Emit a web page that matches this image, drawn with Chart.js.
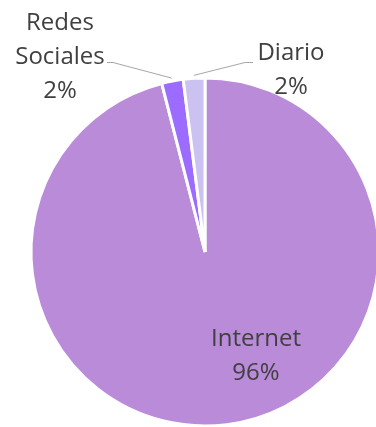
<!DOCTYPE html>
<html>
<head>
<meta charset="utf-8">
<script src="https://cdn.jsdelivr.net/npm/chart.js@4/dist/chart.umd.min.js"></script>
<style>
  html, body { margin: 0; padding: 0; background: #ffffff; overflow: hidden; width: 376px; height: 427px; }
  #wrap { position: absolute; left: 0; top: 0; width: 420px; height: 440px; }
</style>
</head>
<body>
<div id="wrap"><canvas id="chart" width="420" height="440"></canvas></div>
<script>
// Medios de información
const categories = ['Internet', 'Redes Sociales', 'Diario'];
const shares = [96, 2, 2];
const labelLines = [['Internet', '96%'], ['Redes', 'Sociales', '2%'], ['Diario', '2%']];
const sliceColors = ['#b98bd9', '#9c6bff', '#cbc2f2'];

const FONT = '24px "Open Sans", sans-serif';
const LINE_H = 34;

// label anchors (first baseline) measured from the pie centre, plus leader line bends
const labelPlacement = [
  { dx: 51,   dy: 94,   leader: null },
  { dx: -145, dy: -222, leader: { from: [-98, -190], bend: [-92, -190] } },
  { dx: 86,   dy: -192, leader: { from: [48, -190], bend: [40, -190] } }
];

const pieLabels = {
  id: 'pieLabels',
  afterDatasetsDraw(chart) {
    const ctx = chart.ctx;
    const arcs = chart.getDatasetMeta(0).data;
    ctx.save();
    ctx.font = FONT;
    ctx.textAlign = 'center';
    ctx.textBaseline = 'alphabetic';
    arcs.forEach((arc, i) => {
      const p = labelPlacement[i];
      const cx = arc.x, cy = arc.y;
      if (p.leader) {
        const mid = (arc.startAngle + arc.endAngle) / 2;
        const r = arc.outerRadius + 3;
        ctx.strokeStyle = '#a6a6a6';
        ctx.lineWidth = 1;
        ctx.beginPath();
        ctx.moveTo(cx + p.leader.from[0], cy + p.leader.from[1] + 0.5);
        ctx.lineTo(cx + p.leader.bend[0], cy + p.leader.bend[1] + 0.5);
        ctx.lineTo(cx + Math.cos(mid) * r, cy + Math.sin(mid) * r);
        ctx.stroke();
      }
      ctx.fillStyle = '#404040';
      labelLines[i].forEach((t, k) => {
        ctx.fillText(t, cx + p.dx, cy + p.dy + k * LINE_H);
      });
    });
    ctx.restore();
  }
};

new Chart(document.getElementById('chart'), {
  type: 'pie',
  data: {
    labels: categories,
    datasets: [{
      data: shares,
      backgroundColor: sliceColors,
      borderColor: '#ffffff',
      borderWidth: 3
    }]
  },
  options: {
    responsive: false,
    devicePixelRatio: 1,
    animation: false,
    radius: 174,
    layout: { padding: { left: 31, right: 41, top: 78, bottom: 14 } },
    plugins: {
      legend: { display: false },
      tooltip: { enabled: false },
      title: { display: false }
    }
  },
  plugins: [pieLabels]
});
</script>
</body>
</html>
